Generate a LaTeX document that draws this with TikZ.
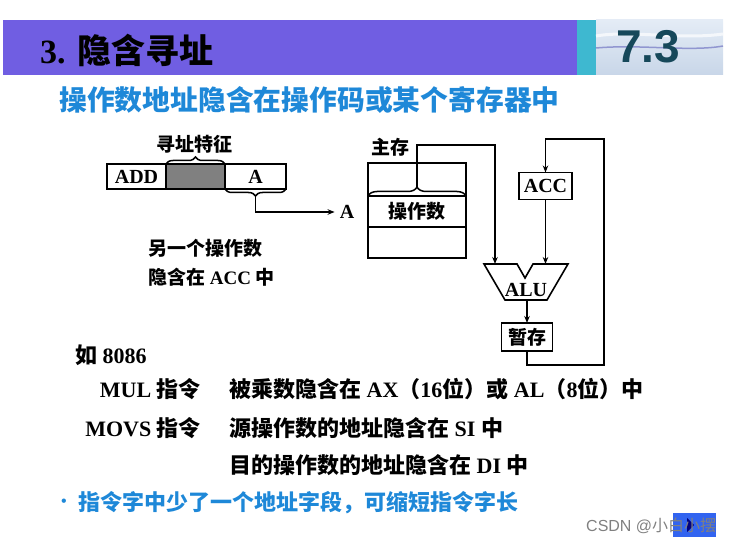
\documentclass[tikz,border=0pt]{standalone}
\usepackage{fontspec}
\setmainfont{Liberation Serif}
\newfontfamily\cjk{Noto Sans CJK SC}
\newfontfamily\sfw{Liberation Sans}
\usetikzlibrary{arrows.meta,decorations.pathreplacing}
\newcommand\zh[1]{{\cjk #1}}
\definecolor{barpurple}{RGB}{112,94,226}
\definecolor{barcyan}{RGB}{62,184,208}
\definecolor{subblue}{RGB}{30,136,216}
\definecolor{teal73}{RGB}{22,72,90}
\definecolor{wmblue}{RGB}{50,100,240}
\definecolor{icetop}{RGB}{228,236,246}
\definecolor{icebot}{RGB}{200,214,232}
\tikzset{
  box/.style={draw, line width=1.6pt, inner sep=0pt, outer sep=0pt},
  lbl/.style={inner sep=0pt, font=\fontsize{19}{22}\selectfont\bfseries},
  big/.style={inner sep=0pt, font=\fontsize{20}{24}\selectfont\bfseries},
  txt/.style={inner sep=0pt, font=\fontsize{22}{26}\selectfont\bfseries},
  conn/.style={line width=1.5pt},
  arr/.style={conn, -{Stealth[length=7pt,width=5.5pt]}},
  brc/.style={decorate, decoration={brace, amplitude=7pt}, line width=1.5pt}
}
\begin{document}
\begin{tikzpicture}[x=1pt,y=-1pt]
\useasboundingbox (0,0) rectangle (738,545);
% title bar
\fill[barpurple] (3,20) rectangle (577,75);
\fill[barcyan] (577,20) rectangle (596,75);
\shade[top color=icetop, bottom color=icebot] (596,20) rectangle (723,75);
\draw[white, line width=3pt, opacity=0.7] (596,36) .. controls (630,30) and (680,40) .. (723,34);
\draw[gray!60!blue, line width=1.5pt, opacity=0.5] (596,48) .. controls (640,44) and (690,52) .. (723,46);
\node[anchor=west, inner sep=0pt, font=\fontsize{34}{40}\selectfont\bfseries] (title) at (40,50) {3. \zh{隐含寻址}};
\node[inner sep=0pt, text=teal73, font=\sfw\fontsize{46}{50}\selectfont\bfseries] (sec) at (648,47) {7.3};
% subtitle
\node[anchor=west, inner sep=0pt, text=subblue, font=\fontsize{27.8}{32}\selectfont\bfseries] (sub) at (59,100) {\zh{操作数地址隐含在操作码或某个寄存器中}};
% instruction format
\node[box, big, minimum width=59pt, minimum height=25pt] (add) at (136.5,176.5) {ADD};
\node[box, fill=gray, minimum width=59pt, minimum height=25pt] (grey) at (195.5,176.5) {};
\node[box, big, minimum width=61pt, minimum height=25pt] (acell) at (255.5,176.5) {A};
\draw[brc] (grey.north west) -- (grey.north east);
\node[lbl] (feat) at (194,144) {\zh{寻址特征}};
\draw[brc] (acell.south east) -- (acell.south west);
\coordinate (atip) at (255.5,196);
\node[big, inner xsep=5pt] (alab) at (347,212) {A};
\draw[arr] (atip) |- (alab.west);
\node[lbl, anchor=west] (t1) at (148,248) {\zh{另一个操作数}};
\node[lbl, anchor=west] (t2) at (148,277) {\zh{隐含在} ACC \zh{中}};
% main memory
\node[box, minimum width=98pt, minimum height=33pt] (mtop) at (417,179.5) {};
\node[box, lbl, minimum width=98pt, minimum height=31pt] (mop) at (417,211.5) {\zh{操作数}};
\node[box, minimum width=98pt, minimum height=31pt] (mbot) at (417,242.5) {};
\node[lbl] (zc) at (390,147) {\zh{主存}};
\draw[brc, decoration={amplitude=9pt}] (mtop.south west) -- (mtop.south east);
\coordinate (mtip) at (417,187);
% ALU
\coordinate (aluA) at (484,264);
\coordinate (aluB) at (517,264);
\coordinate (aluC) at (525,278);
\coordinate (aluD) at (533,264);
\coordinate (aluE) at (568,264);
\coordinate (aluF) at (547,300);
\coordinate (aluG) at (505,300);
\draw[line width=1.6pt, line join=miter] (aluA) -- (aluB) -- (aluC) -- (aluD) -- (aluE) -- (aluF) -- (aluG) -- cycle;
\node[big] (alu) at (526,290) {ALU};
\coordinate (aluinL) at (495,264);
\coordinate (aluinR) at (545.5,264);
\coordinate (aluout) at (527,300);
\node[box, big, minimum width=53pt, minimum height=27pt] (acc) at (545.5,186) {ACC};
\node[box, lbl, minimum width=51pt, minimum height=28pt] (tmp) at (527,337) {\zh{暂存}};
\coordinate (lbr) at (604,365);
\coordinate (ltr) at (604,139);
\draw[arr] (mtip) -- ++(0,-42) -| (aluinL);
\draw[arr] (acc.south) -- (aluinR);
\draw[arr] (aluout) -- (tmp.north);
\draw[arr] (tmp.south) |- (lbr) -- (ltr) -| (acc.north);
% examples
\node[txt, anchor=west] (ex) at (75,355) {\zh{如} 8086};
\node[txt, anchor=east] (mul) at (201,389) {MUL \zh{指令}};
\node[txt, anchor=west] (muld) at (229,389) {\zh{被乘数隐含在} AX\zh{（}16\zh{位）或} AL\zh{（}8\zh{位）中}};
\node[txt, anchor=east] (movs) at (201,428) {MOVS \zh{指令}};
\node[txt, anchor=west] (movs1) at (229,428) {\zh{源操作数的地址隐含在} SI \zh{中}};
\node[txt, anchor=west] (movs2) at (229,465) {\zh{目的操作数的地址隐含在} DI \zh{中}};
\node[inner sep=0pt, text=subblue, font=\sfw\fontsize{16}{18}\selectfont] (bul) at (64,503) {•};
\node[txt, anchor=west, text=subblue] (note) at (78,503) {\zh{指令字中少了一个地址字段，可缩短指令字长}};
% watermark
\fill[wmblue] (673,513) rectangle (716,537);
\fill[blue!50!black] (687,518) -- (694,525) -- (687,532) -- cycle;
\node[anchor=west, inner sep=0pt, text=gray, font=\sfw\fontsize{16}{18}\selectfont] (wm) at (586,526) {CSDN @\zh{小白小摆}};
\end{tikzpicture}
\end{document}
